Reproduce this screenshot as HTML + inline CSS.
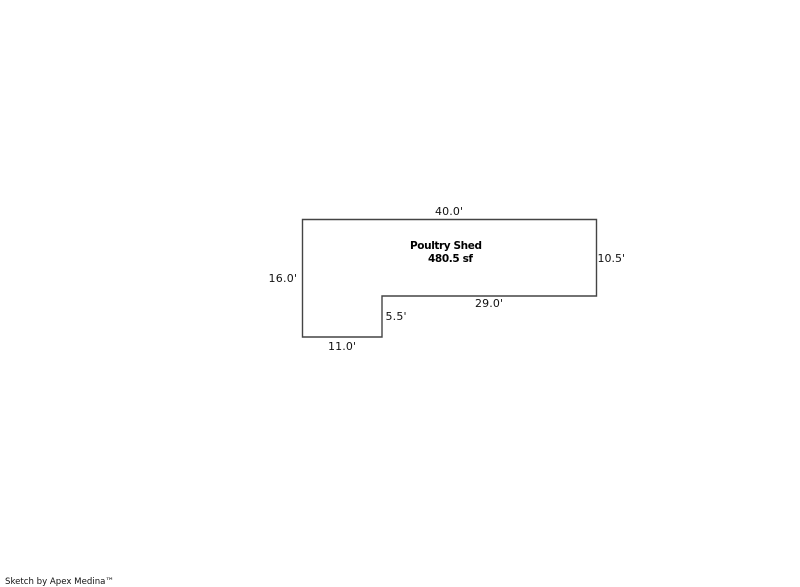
<!DOCTYPE html>
<html>
<head>
<meta charset="utf-8">
<style>
html,body{margin:0;padding:0;background:#fff;width:800px;height:587px;overflow:hidden}
svg{display:block}
text{font-family:"DejaVu Sans","Liberation Sans",sans-serif;font-size:11px;fill:#111}
.b{font-weight:bold;fill:#000;font-size:10.5px}
</style>
</head>
<body>
<svg width="800" height="587" viewBox="0 0 800 587" xmlns="http://www.w3.org/2000/svg">
<path d="M302.5 219.5H596.5V296H382V337H302.5Z" fill="none" stroke="#444" stroke-width="1.4"/>
<text x="435" y="215" textLength="28">40.0'</text>
<text x="268.5" y="282" textLength="28.5">16.0'</text>
<text x="597.5" y="262" textLength="27.5">10.5'</text>
<text x="475" y="307" textLength="28">29.0'</text>
<text x="385.5" y="320" textLength="21">5.5'</text>
<text x="328" y="350" textLength="28">11.0'</text>
<text class="b" x="410" y="249" textLength="72">Poultry Shed</text>
<text class="b" x="428" y="262" textLength="45">480.5 sf</text>
<text x="5" y="584" style="font-size:9px" textLength="109" lengthAdjust="spacingAndGlyphs">Sketch by Apex Medina™</text>
</svg>
</body>
</html>
